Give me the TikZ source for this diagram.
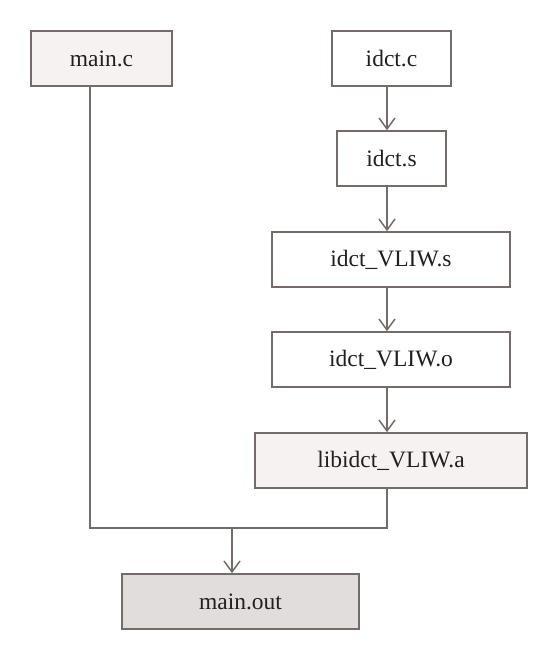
\documentclass[tikz,border=0pt]{standalone}
\usepackage{fontspec}
\setmainfont{Liberation Serif}
\usetikzlibrary{arrows.meta}
\definecolor{edgegray}{RGB}{117,107,104}
\definecolor{lightfill}{RGB}{246,242,242}
\definecolor{darkfill}{RGB}{225,221,220}
\definecolor{inkblack}{RGB}{35,31,32}
\begin{document}
\begin{tikzpicture}[x=1pt,y=-1pt,
   file/.style={draw=edgegray,line width=1.5pt,fill=white,text=inkblack,
     font=\fontsize{23.5}{27}\selectfont,minimum height=55pt,inner sep=0pt},
   line/.style={draw=edgegray,line width=1.5pt},
   arr/.style={line,-{Straight Barb[length=11pt,width=16pt,line width=1.5pt]}}]
   \useasboundingbox (0,0) rectangle (558,660);
   \node[file,fill=lightfill,minimum width=141pt] (mainc) at (101.5,58.5) {main.c};
   \node[file,minimum width=119pt] (idctc) at (391.5,58.5) {idct.c};
   \node[file,minimum width=109pt] (idcts) at (391.5,158.5) {idct.s};
   \node[file,minimum width=238pt] (vliws) at (391,259.5) {idct\_VLIW.s};
   \node[file,minimum width=238pt] (vliwo) at (391,359.5) {idct\_VLIW.o};
   \node[file,fill=lightfill,minimum width=272pt] (lib) at (391,460.5) {libidct\_VLIW.a};
   \node[file,fill=darkfill,minimum width=237pt] (mainout) at (240.5,601.5) {main.out};
   \coordinate (spine) at (387,0);
   \coordinate (leftx) at (90,0);
   \coordinate (join) at (232,528);
   \draw[arr] (idctc.south -| spine) -- (idcts.north -| spine);
   \draw[arr] (idcts.south -| spine) -- (vliws.north -| spine);
   \draw[arr] (vliws.south -| spine) -- (vliwo.north -| spine);
   \draw[arr] (vliwo.south -| spine) -- (lib.north -| spine);
   \draw[line] (mainc.south -| leftx) |- (join) -| (lib.south -| spine);
   \draw[arr] (join) -- (mainout.north -| join);
\end{tikzpicture}
\end{document}
